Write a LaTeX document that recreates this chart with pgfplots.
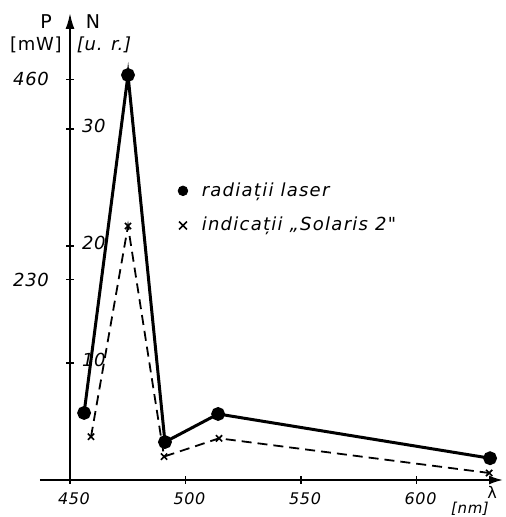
\documentclass[border=0pt]{standalone}
\usepackage{fontspec}
\setmainfont{DejaVu Sans}[LetterSpace=4]
\newfontfamily\legfont{DejaVu Sans}[LetterSpace=7]
\usepackage{pgfplots}
\pgfplotsset{compat=1.18}
\usetikzlibrary{arrows.meta}
\begin{document}
\begin{tikzpicture}
\path[use as bounding box] (-35pt,-18.5pt) rectangle (217.5pt,240pt);
% P axis (laser radiation)
\begin{axis}[
  at={(0,0)}, anchor=south west,
  scale only axis, width=216.5pt, height=233.5pt,
  xmin=450, xmax=637.4, ymin=0, ymax=536.2,
  axis x line*=bottom, axis y line*=left,
  x axis line style={line width=1pt, -{Latex[length=7pt,width=4.5pt]}},
  y axis line style={line width=1pt, -{Latex[length=8pt,width=4.5pt]}},
  xtick={450,500,550,600}, ytick={230,460},
  tick align=center, major tick length=4pt,
  tick style={line width=0.8pt, black},
  /pgf/number format/assume math mode=true,
  xticklabel style={font=\fontsize{8}{9}\selectfont\itshape, yshift=-1pt, xshift=2pt},
  yticklabel style={font=\fontsize{9}{10}\selectfont\itshape, xshift=-5pt},
  clip=false,
]
\addplot[black, line width=1.5pt, mark=*, mark size=2.7pt] coordinates {
  (456.1,77) (475.1,465) (491.1,43.6) (514.1,75.8) (631.8,25)
};
\draw[line width=1pt] (axis cs:437,0) -- (axis cs:450,0);
\end{axis}
% N axis (Solaris 2 indications)
\begin{axis}[
  at={(0,0)}, anchor=south west,
  scale only axis, width=216.5pt, height=233.5pt,
  xmin=450, xmax=637.4, ymin=0, ymax=39.9,
  axis x line=none, axis y line*=left,
  y axis line style={draw=none},
  xtick=\empty, ytick={10,20,30},
  tick align=center, major tick length=4pt,
  tick style={line width=0.8pt, black},
  /pgf/number format/assume math mode=true,
  yticklabel style={font=\fontsize{9}{10}\selectfont\itshape, anchor=west, xshift=4.5pt, yshift=1.5pt},
  clip=false,
]
\addplot[black, line width=0.9pt, dash pattern=on 5pt off 3pt, mark=x, mark size=2.2pt,
  mark options={solid, line width=0.8pt}] coordinates {
  (459.1,3.7) (475.1,21.7) (490.7,2.0) (514.5,3.56) (631.4,0.6)
};
\end{axis}
\begin{axis}[
  at={(0,0)}, anchor=south west,
  scale only axis, width=216.5pt, height=233.5pt,
  xmin=450, xmax=637.4, ymin=0, ymax=39.9,
  axis lines=none, xtick=\empty, ytick=\empty,
  legend style={draw=none, fill=none, at={(0.235,0.655)}, anchor=north west,
    font=\legfont\fontsize{9}{11}\selectfont\itshape, row sep=5pt,
    legend cell align=left},
  legend image code/.code={\draw[#1] plot coordinates {(0.1cm,0cm)};},
]
\addlegendimage{black, only marks, mark=*, mark size=2.4pt}
\addlegendentry{\hspace{5pt}radiații laser}
\addlegendimage{black, only marks, mark=x, mark size=2.8pt, mark options={line width=0.8pt}}
\addlegendentry{\hspace{5pt}indicații „Solaris 2"}
\end{axis}
\node[font=\fontsize{9.5}{10}\selectfont] at (-12pt,229pt) {P};
\node[font=\fontsize{9}{10}\selectfont] at (-17pt,217.5pt) {[mW]};
\node[font=\fontsize{9.5}{10}\selectfont] at (11.5pt,229pt) {N};
\node[font=\fontsize{9}{10}\selectfont\itshape] at (17pt,217.5pt) {[u. r.]};
\node[font=\fontsize{8}{8}\selectfont, inner sep=0pt] at (211pt,-6.3pt) {λ};
\node[font=\fontsize{7.5}{8}\selectfont\itshape, inner sep=0pt] at (200pt,-14.6pt) {[nm]};
\end{tikzpicture}
\end{document}
